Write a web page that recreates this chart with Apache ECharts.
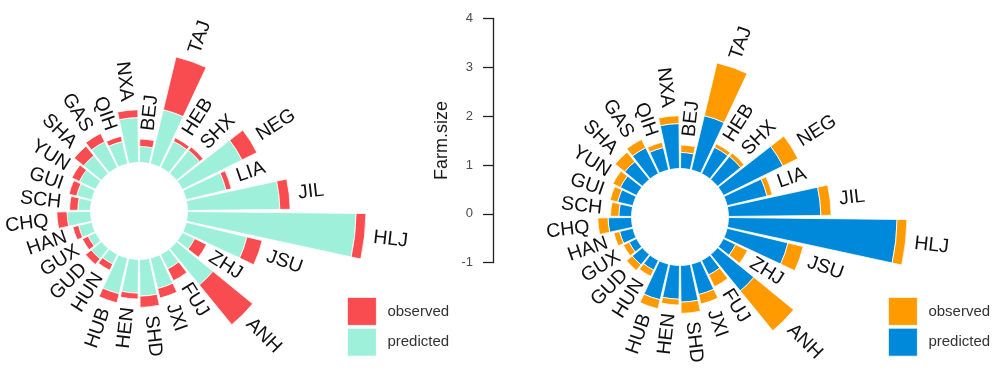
<!DOCTYPE html>
<html><head><meta charset="utf-8">
<script src="https://cdn.jsdelivr.net/npm/echarts@6/dist/echarts.min.js"></script>
<style>html,body{margin:0;padding:0;background:#fff}#c{width:1000px;height:392px}</style>
</head><body><div id="c"></div>
<script>
// categories (clockwise from 12 o'clock)
const provinces = ['BEJ','TAJ','HEB','SHX','NEG','LIA','JIL','HLJ','JSU','ZHJ','ANH','FUJ','JXI','SHD','HEN','HUB','HUN','GUD','GUX','HAN','CHQ','SCH','GUI','YUN','SHA','GAS','QIH','NXA'];
// inner stacked segment (predicted)
const predicted = [0.33,1.14,0.60,0.61,1.36,0.84,1.89,3.45,1.28,0.28,0.96,0.33,0.64,0.75,0.69,0.75,0.22,0.27,0.17,0.28,0.48,0.26,0.32,0.37,0.47,0.59,0.47,0.92];
// outer stacked segment (observed)
const observed  = [0.15,1.11,0.08,0.09,0.34,0.11,0.21,0.20,0.32,0.27,1.05,0.27,0.20,0.23,0.12,0.19,0.14,0.15,0.13,0.12,0.21,0.17,0.16,0.17,0.25,0.19,0.11,0.16];
// radial axis ticks (Farm.size)
const radialTicks = [-1,0,1,2,3,4];

const FONT = '"Liberation Sans", Arial, Helvetica, sans-serif';
const palettes = [
  {obs:'#F84C50', pred:'#9EF0DA'},
  {obs:'#FF9B00', pred:'#0089DB'}
];
const centers = [[139,211],[680,217]];
const legendLeft = [342, 883];

const polar = centers.map(c => ({center: c, radius: [48.5, 244]}));
const radiusAxis = centers.map((c,i) => ({polarIndex:i, type:'value', min:0, max:4, show:false}));
const angleAxis = centers.map((c,i) => ({polarIndex:i, type:'category', data:provinces, startAngle:90, clockwise:true, show:false, boundaryGap:true}));

const series = [];
const legends = [];
palettes.forEach((pal, i) => {
  series.push({
    name:'predicted', type:'bar', coordinateSystem:'polar', polarIndex:i, stack:'s'+i,
    data: predicted, barCategoryGap:'10%',
    itemStyle:{color:pal.pred, borderColor:'#fff', borderWidth:0.8}, silent:true
  });
  series.push({
    name:'observed', type:'bar', coordinateSystem:'polar', polarIndex:i, stack:'s'+i,
    data: observed, barCategoryGap:'10%',
    itemStyle:{color:pal.obs, borderColor:'#fff', borderWidth:0.8}, silent:true
  });
  series.push({
    name:'labels'+i, type:'custom', coordinateSystem:'polar', polarIndex:i, silent:true,
    data: provinces.map((p,k) => [predicted[k]+observed[k], k]),
    renderItem: function(params, api){
      const r = api.value(0), k = api.value(1);
      const p = api.coord([r, k]);
      const cs = params.coordSys;
      const dx = p[0]-cs.cx, dy = p[1]-cs.cy;
      const len = Math.sqrt(dx*dx+dy*dy);
      const pad = 9;
      const x = p[0] + dx/len*pad, y = p[1] + dy/len*pad;
      const phi = Math.atan2(-dy, dx);
      const right = dx >= -0.01;
      return {type:'text', x:x, y:y, rotation: right ? phi : phi + Math.PI,
        style:{text: provinces[k], align: right ? 'left':'right', verticalAlign:'middle',
          font: '19.5px ' + FONT, fill:'#111'}};
    }
  });
  legends.push({
    left: legendLeft[i], top: 292, orient:'vertical', itemWidth:29, itemHeight:28, itemGap:2,
    icon:'rect', selectedMode:false,
    data:[{name:'observed', itemStyle:{color:pal.obs, borderColor:'#fff', borderWidth:0.8}},
          {name:'predicted', itemStyle:{color:pal.pred, borderColor:'#fff', borderWidth:0.8}}],
    textStyle:{fontSize:15, color:'#333', fontFamily:FONT, padding:[0,0,0,6]}
  });
});

const chart = echarts.init(document.getElementById('c'), null, {renderer:'canvas'});
chart.setOption({
  animation:false,
  backgroundColor:'#fff',
  polar: polar,
  radiusAxis: radiusAxis,
  angleAxis: angleAxis,
  grid: {left: 493, top: 18.3, width: 1, height: 244.4},
  xAxis: {type:'value', show:false, min:0, max:1},
  yAxis: {type:'value', min: radialTicks[0], max: radialTicks[radialTicks.length-1], interval:1,
    name:'Farm.size', nameLocation:'middle', nameRotate:90, nameGap:42,
    nameTextStyle:{fontSize:18, color:'#1a1a1a', fontFamily:FONT},
    axisLine:{show:true, lineStyle:{color:'#222', width:1.3}},
    axisTick:{show:true, length:10, lineStyle:{color:'#222', width:1.3}},
    axisLabel:{margin:20, fontSize:13, color:'#4d4d4d', fontFamily:FONT},
    splitLine:{show:false}},
  legend: legends,
  series: series
});
</script>
</body></html>
